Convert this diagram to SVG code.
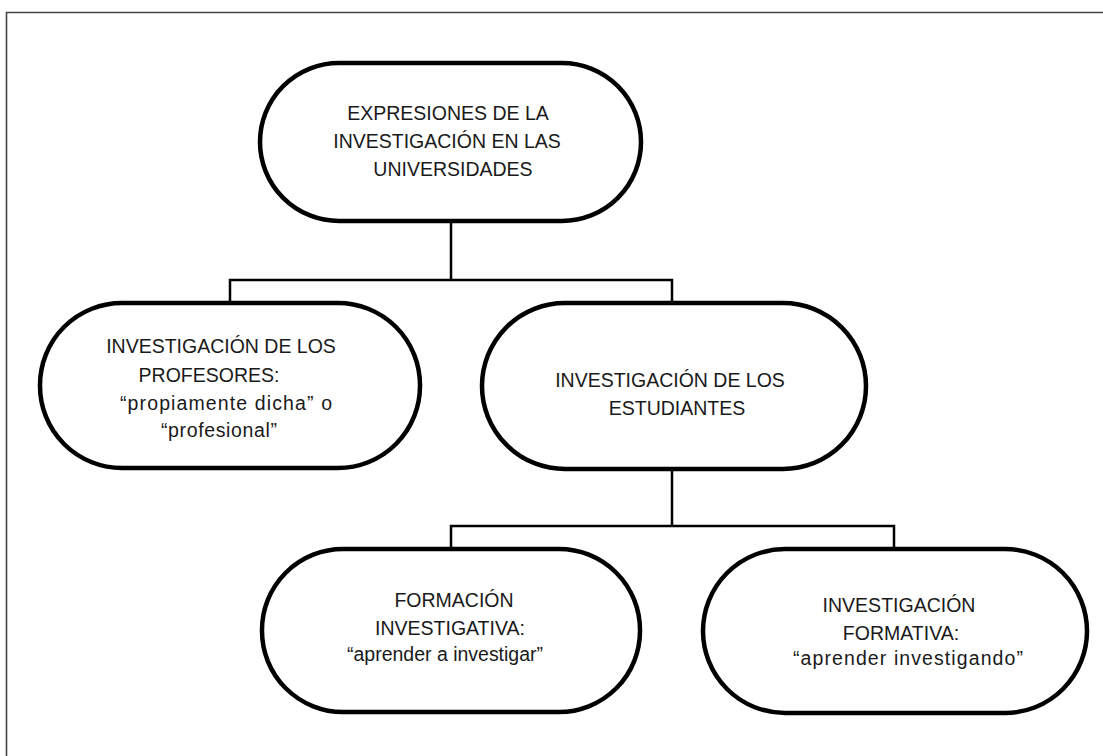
<svg xmlns="http://www.w3.org/2000/svg" width="1103" height="756" viewBox="0 0 1103 756">
<style>
.node{fill:#fff;stroke:#000;stroke-width:4.5}
.conn{fill:none;stroke:#000;stroke-width:2.5}
text{font-family:"Liberation Sans",Arial,sans-serif;font-size:19.5px;fill:#1a1a1a;text-anchor:middle}
</style>
<rect width="1103" height="756" fill="#fff"/>
<path d="M6.5,756 V12.5 H1103" fill="none" stroke="#444" stroke-width="1.6"/>
<g id="connectors">
<path class="conn" d="M451,222 V280 M230,303 V280 H672 V303"/>
<path class="conn" d="M672,469 V526 M451,549 V526 H894 V549"/>
</g>
<g id="n-expresiones">
<rect class="node" x="260" y="63" width="381" height="158" rx="79"/>
<text x="448" y="120">EXPRESIONES DE LA</text>
<text x="447" y="148">INVESTIGACIÓN EN LAS</text>
<text x="453" y="176">UNIVERSIDADES</text>
</g>
<g id="n-profesores">
<rect class="node" x="40" y="303" width="380" height="165" rx="82"/>
<text x="221" y="353">INVESTIGACIÓN DE LOS</text>
<text x="209" y="382">PROFESORES:</text>
<text x="226" y="410" textLength="212">“propiamente dicha” o</text>
<text x="219" y="437" textLength="116">“profesional”</text>
</g>
<g id="n-estudiantes">
<rect class="node" x="482" y="303" width="384" height="166" rx="83"/>
<text x="670" y="387">INVESTIGACIÓN DE LOS</text>
<text x="677" y="415">ESTUDIANTES</text>
</g>
<g id="n-formacion">
<rect class="node" x="262" y="549" width="378" height="163" rx="81"/>
<text x="454" y="607">FORMACIÓN</text>
<text x="450" y="635">INVESTIGATIVA:</text>
<text x="445" y="661" textLength="196">“aprender a investigar”</text>
</g>
<g id="n-investigacion-formativa">
<rect class="node" x="703" y="549" width="384" height="164" rx="82"/>
<text x="899" y="612">INVESTIGACIÓN</text>
<text x="901" y="640">FORMATIVA:</text>
<text x="908" y="665" textLength="230">“aprender investigando”</text>
</g>
</svg>
